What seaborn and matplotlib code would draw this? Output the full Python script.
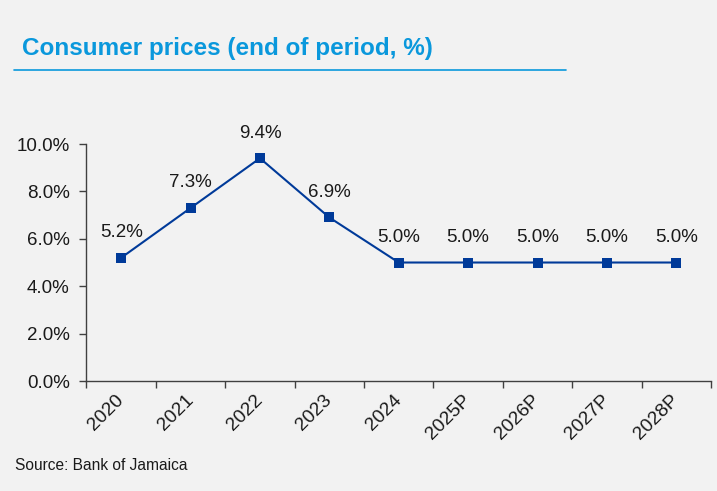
import numpy as np
import pandas as pd
import seaborn as sns
import matplotlib.pyplot as plt
from matplotlib.transforms import ScaledTranslation

# data
years = ["2020", "2021", "2022", "2023", "2024", "2025P", "2026P", "2027P", "2028P"]
inflation = [5.2, 7.3, 9.4, 6.9, 5.0, 5.0, 5.0, 5.0, 5.0]
y_ticks = [0, 2, 4, 6, 8, 10]

df = pd.DataFrame({"year": years, "inflation": inflation})
df["pos"] = np.arange(len(df))

sns.set_style("white")
plt.rcParams["font.family"] = ["Liberation Sans", "DejaVu Sans"]

bg = "#f2f2f2"
line_color = "#003a99"
title_color = "#0a98dc"
text_color = "#1a1a1a"

fig = plt.figure(figsize=(7.17, 4.91), dpi=100, facecolor=bg)
ax = fig.add_axes([0.1206, 0.224, 0.871, 0.4827])
ax.set_facecolor(bg)

sns.lineplot(data=df, x="pos", y="inflation", ax=ax, color=line_color,
             linewidth=1.5, marker="s", markersize=6.6, markeredgewidth=0)

# data labels
for p, v in zip(df["pos"], df["inflation"]):
    ax.annotate(f"{v:.1f}%", (p, v), xytext=(0, 12), textcoords="offset points",
                ha="center", va="bottom", fontsize=13.5, color=text_color)

ax.set_xlim(-0.5, len(years) - 0.5)
ax.set_ylim(0, 10)
ax.set_yticks(y_ticks)
ax.set_yticklabels([f"{t:.1f}%" for t in y_ticks], fontsize=13.5, color=text_color)

# ticks on category boundaries, labels at centres
ax.set_xticks(np.arange(-0.5, len(years)), labels=[""] * (len(years) + 1))
ax.set_xticks(df["pos"], labels=years, minor=True)
ax.tick_params(axis="x", which="minor", length=0, pad=4)
shift = ScaledTranslation(-6 / 100, -5 / 100, fig.dpi_scale_trans)
for lbl in ax.get_xticklabels(minor=True):
    lbl.set_rotation(45)
    lbl.set_ha("right")
    lbl.set_rotation_mode("anchor")
    lbl.set_fontsize(13.8)
    lbl.set_color(text_color)
    lbl.set_transform(lbl.get_transform() + shift)
ax.tick_params(axis="both", which="major", direction="out", length=5,
               width=1, color="#404040", left=True, bottom=True)
ax.tick_params(axis="y", pad=7)

for side in ["top", "right"]:
    ax.spines[side].set_visible(False)
for side in ["left", "bottom"]:
    ax.spines[side].set_color("#404040")
    ax.spines[side].set_linewidth(1)

ax.set_xlabel("")
ax.set_ylabel("")

# title and rule underneath
fig.text(22 / 717, 1 - 48 / 491, "Consumer prices (end of period, %)",
         fontsize=17.5, fontweight="bold", color=title_color, va="center", ha="left")
fig.add_artist(plt.Line2D([14 / 717, 566 / 717], [1 - 70 / 491, 1 - 70 / 491],
                          color=title_color, linewidth=1.2))

fig.text(15 / 717, 1 - 466 / 491, "Source: Bank of Jamaica", fontsize=11.2,
         color=text_color, va="center", ha="left")

fig.savefig("out.png", dpi=100, facecolor=bg)
